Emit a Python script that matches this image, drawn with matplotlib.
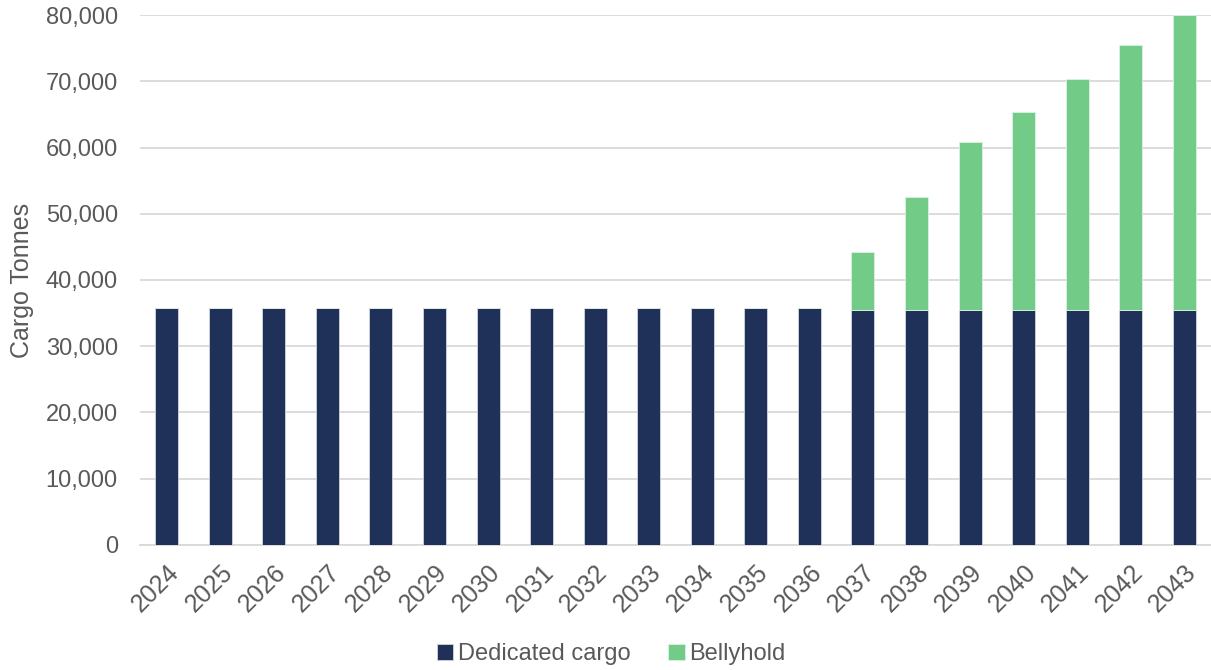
import numpy as np
import matplotlib
matplotlib.use("Agg")
import matplotlib.pyplot as plt
from matplotlib.ticker import FuncFormatter

plt.rcParams['font.family'] = ['Liberation Sans', 'DejaVu Sans']

# data (tonnes)
years = [str(y) for y in range(2024, 2044)]
dedicated = [35800] * 13 + [35500] * 7
bellyhold = [0] * 13 + [8800, 17000, 25400, 29900, 34900, 40000, 44500]

navy = '#1F3158'
green = '#72CC88'
grey_txt = '#595959'

fig = plt.figure(figsize=(12.11, 6.70), dpi=100)
ax = fig.add_axes([0.1156, 0.1866, 0.8844, 0.791])

x = np.arange(len(years))
w = 0.43
ax.bar(x, dedicated, w, color=navy, edgecolor='#D0D4DC', linewidth=0.6,
       label='Dedicated cargo', zorder=3)
ax.bar(x, bellyhold, w, bottom=dedicated, color=green, edgecolor='#DDF2E2',
       linewidth=0.6, label='Bellyhold', zorder=3)

ax.set_xlim(-0.5, len(years) - 0.5)
ax.set_ylim(0, 80000)
ax.set_yticks(range(0, 80001, 10000))
ax.yaxis.set_major_formatter(FuncFormatter(lambda v, p: f'{int(v):,}'))
ax.grid(axis='y', color='#D9D9D9', linewidth=1.3, zorder=0)

for s in ['top', 'right', 'left']:
    ax.spines[s].set_visible(False)
ax.spines['bottom'].set_color('#D9D9D9')
ax.spines['bottom'].set_linewidth(1.3)

ax.set_xticks(x)
ax.set_xticklabels(years, rotation=45, ha='right', rotation_mode='anchor')
ax.tick_params(axis='y', length=0, pad=16, labelsize=17, labelcolor=grey_txt)
ax.tick_params(axis='x', length=0, pad=11, labelsize=18, labelcolor=grey_txt)

ax.set_ylabel('Cargo Tonnes', fontsize=18, color=grey_txt, labelpad=8)

ax.legend(loc='upper center', bbox_to_anchor=(0.44, -0.145), ncol=2,
          frameon=False, fontsize=17, labelcolor=grey_txt,
          handlelength=0.7, handleheight=0.7, handletextpad=0.2,
          columnspacing=1.6)

fig.savefig('out.png', dpi=100)
